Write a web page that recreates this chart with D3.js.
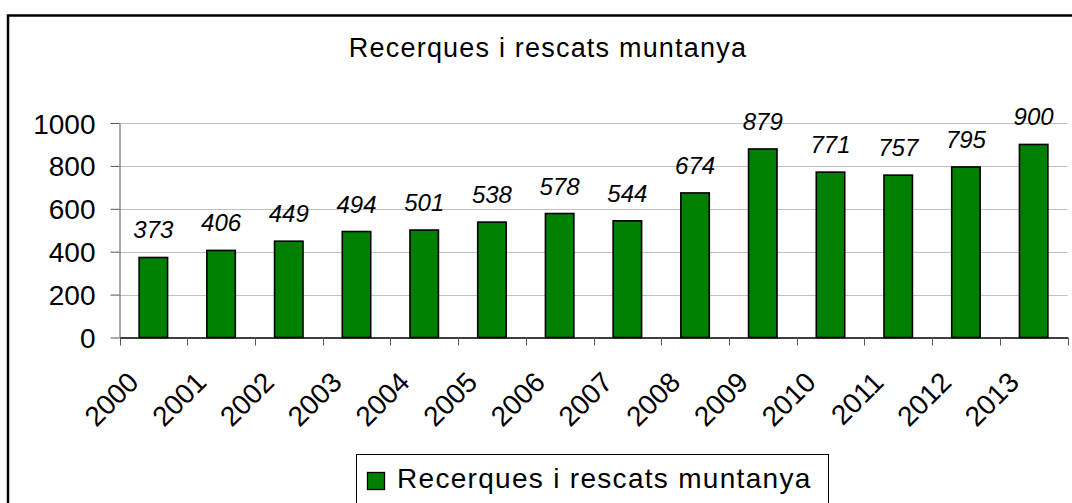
<!DOCTYPE html>
<html>
<head>
<meta charset="utf-8">
<script src="https://cdn.jsdelivr.net/npm/d3@7"></script>
<style>
  body { margin: 0; background: #fff; }
  text { font-family: "Liberation Sans", Arial, sans-serif; fill: #000; }
</style>
</head>
<body>
<div id="chart"></div>
<script>
var years = ["2000", "2001", "2002", "2003", "2004", "2005", "2006", "2007", "2008", "2009", "2010", "2011", "2012", "2013"];
var rescues = [373, 406, 449, 494, 501, 538, 578, 544, 674, 879, 771, 757, 795, 900];
var yTicks = [0, 200, 400, 600, 800, 1000];
var title = "Recerques i rescats muntanya";
var seriesName = "Recerques i rescats muntanya";

var svgWidth = 1072;
var svgHeight = 503;

var plot = { left: 119.5, right: 1067.5, top: 123, bottom: 337.5 };

var svg = d3.select("#chart")
  .append("svg")
  .attr("width", svgWidth)
  .attr("height", svgHeight);

// outer chart frame (right and bottom edges fall outside the picture)
svg.append("rect")
  .attr("x", 8)
  .attr("y", 15.5)
  .attr("width", 1080)
  .attr("height", 520)
  .attr("fill", "none")
  .attr("stroke", "#000")
  .attr("stroke-width", 2.5);

svg.append("text")
  .attr("x", 548)
  .attr("y", 57)
  .attr("text-anchor", "middle")
  .style("font-size", "27px")
  .style("letter-spacing", "1.2px")
  .text(title);

var x = d3.scaleBand()
  .domain(years)
  .range([plot.left, plot.right])
  .paddingInner(0.58)
  .paddingOuter(0.29);

var y = d3.scaleLinear()
  .domain([0, 1000])
  .range([plot.bottom, plot.top]);

// gridlines
svg.append("g")
  .selectAll("line")
  .data(yTicks.filter(d => d > 0))
  .enter()
  .append("line")
  .attr("x1", plot.left)
  .attr("x2", plot.right)
  .attr("y1", d => Math.round(y(d)) + 0.5)
  .attr("y2", d => Math.round(y(d)) + 0.5)
  .attr("stroke", "#c0c0c0")
  .attr("stroke-width", 1);

// y axis
var leftAxis = d3.axisLeft(y)
  .tickValues(yTicks)
  .tickFormat(d3.format("d"))
  .tickSize(9)
  .tickPadding(15)
  .tickSizeOuter(0);

var yAxisG = svg.append("g")
  .attr("transform", `translate(${plot.left}, 0)`)
  .call(leftAxis);
yAxisG.attr("font-family", null).attr("font-size", null);
yAxisG.select(".domain").attr("stroke", "#555");
yAxisG.selectAll(".tick line").attr("stroke", "#555");
yAxisG.selectAll(".tick text")
  .style("font-size", "28px")
  .attr("dy", "0.36em");

// bars
svg.append("g")
  .selectAll("rect")
  .data(rescues)
  .enter()
  .append("rect")
  .attr("x", (d, i) => x(years[i]))
  .attr("y", d => y(d))
  .attr("width", x.bandwidth())
  .attr("height", d => y(0) - y(d))
  .attr("fill", "#008000")
  .attr("stroke", "#000")
  .attr("stroke-width", 1.6);

// value labels
svg.append("g")
  .selectAll("text")
  .data(rescues)
  .enter()
  .append("text")
  .attr("x", (d, i) => x(years[i]) + x.bandwidth() / 2)
  .attr("y", d => y(d) - 19)
  .attr("text-anchor", "middle")
  .style("font-size", "24px")
  .style("font-style", "italic")
  .text(d => d);

// x axis with ticks on category boundaries
var bottomAxis = d3.axisBottom(x).tickSize(0).tickSizeOuter(0).tickFormat("");
var xAxisG = svg.append("g")
  .attr("transform", `translate(0, ${plot.bottom})`)
  .call(bottomAxis);
xAxisG.select(".domain").attr("stroke", "#000").attr("stroke-width", 1.3);

var half = (x.step() - x.bandwidth()) / 2;
var bounds = years.map(d => x(d) - half).concat([plot.right]);
xAxisG.selectAll(".bound")
  .data(bounds)
  .enter()
  .append("line")
  .attr("class", "bound")
  .attr("x1", d => Math.round(d) + 0.5)
  .attr("x2", d => Math.round(d) + 0.5)
  .attr("y1", 0)
  .attr("y2", 8)
  .attr("stroke", "#555");

// rotated year labels
svg.append("g")
  .selectAll("text")
  .data(years)
  .enter()
  .append("text")
  .attr("transform", d => `translate(${x(d) + x.bandwidth() / 2 - 13}, 384) rotate(-45)`)
  .attr("text-anchor", "end")
  .style("font-size", "28px")
  .text(d => d);

// legend
var legend = svg.append("g");
legend.append("rect")
  .attr("x", 356.5)
  .attr("y", 454.5)
  .attr("width", 472)
  .attr("height", 60)
  .attr("fill", "#fff")
  .attr("stroke", "#000")
  .attr("stroke-width", 1);
legend.append("rect")
  .attr("x", 367.5)
  .attr("y", 472.5)
  .attr("width", 17)
  .attr("height", 17)
  .attr("fill", "#008000")
  .attr("stroke", "#000")
  .attr("stroke-width", 1.3);
legend.append("text")
  .attr("x", 397)
  .attr("y", 488)
  .style("font-size", "28px")
  .style("letter-spacing", "1.3px")
  .text(seriesName);
</script>
</body>
</html>
